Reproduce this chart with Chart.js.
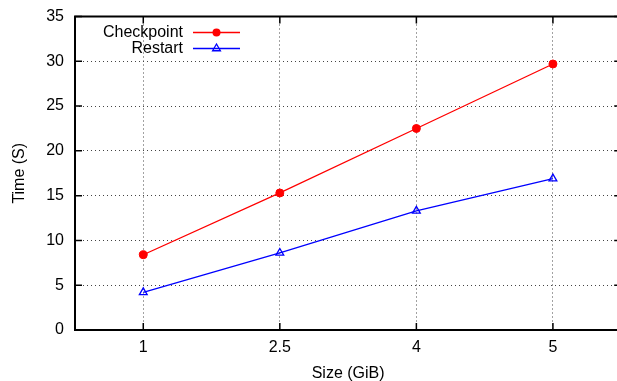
<!DOCTYPE html>
<html>
<head>
<meta charset="utf-8">
<script src="https://cdn.jsdelivr.net/npm/chart.js@4/dist/chart.umd.min.js"></script>
<style>
  html, body { margin: 0; padding: 0; background: #fff; overflow: hidden; }
  #wrap { width: 617px; height: 381px; overflow: hidden; }
  #box { width: 627px; height: 381px; }
  #timeChart { width: 627px; height: 381px; display: block; }
</style>
</head>
<body>
<div id="wrap"><div id="box"><canvas id="timeChart" width="627" height="381"></canvas></div></div>
<script>
const sizes = ['1', '2.5', '4', '5'];
const checkpointTimes = [8.4, 15.3, 22.5, 29.7];
const restartTimes = [4.2, 8.6, 13.3, 16.9];
const yTicks = [0, 5, 10, 15, 20, 25, 30, 35];

const FONT = { family: '"Liberation Sans", Arial, Helvetica, sans-serif', size: 16 };

// frame, inward tick marks on all four sides and the key in the upper left
const gnuplotFrame = {
    id: 'gnuplotFrame',
    afterDatasetsDraw(chart) {
        const { ctx, chartArea: a, scales } = chart;
        const tick = 7;
        ctx.save();
        ctx.strokeStyle = '#000';
        ctx.lineWidth = 1.5;
        ctx.beginPath();
        scales.y.ticks.forEach((t, i) => {
            const y = scales.y.getPixelForTick(i);
            ctx.moveTo(a.left, y); ctx.lineTo(a.left + tick, y);
            ctx.moveTo(a.right, y); ctx.lineTo(a.right - tick, y);
        });
        scales.x.ticks.forEach((t, i) => {
            const x = scales.x.getPixelForTick(i);
            ctx.moveTo(x, a.bottom); ctx.lineTo(x, a.bottom - tick);
            ctx.moveTo(x, a.top); ctx.lineTo(x, a.top + tick);
        });
        ctx.stroke();
        ctx.lineWidth = 2;
        ctx.strokeRect(a.left, a.top, a.right - a.left, a.bottom - a.top);

        // key
        ctx.font = FONT.size + 'px ' + FONT.family;
        ctx.textAlign = 'right';
        ctx.textBaseline = 'middle';
        chart.data.datasets.forEach((ds, i) => {
            const y = 32.5 + i * 16;
            const mx = 216.5;
            ctx.fillStyle = '#000';
            ctx.fillText(ds.label, 183, y);
            ctx.strokeStyle = ds.borderColor;
            ctx.lineWidth = ds.borderWidth;
            ctx.beginPath();
            ctx.moveTo(193, y); ctx.lineTo(240, y);
            ctx.stroke();
            ctx.fillStyle = ds.pointBackgroundColor;
            ctx.strokeStyle = ds.pointBorderColor;
            ctx.lineWidth = ds.pointBorderWidth;
            ctx.beginPath();
            if (ds.pointStyle === 'circle') {
                ctx.arc(mx, y, ds.pointRadius, 0, Math.PI * 2);
                ctx.fill();
            } else {
                const r = ds.pointRadius;
                ctx.moveTo(mx, y - r);
                ctx.lineTo(mx + r * 0.87, y + r * 0.5);
                ctx.lineTo(mx - r * 0.87, y + r * 0.5);
                ctx.closePath();
                ctx.stroke();
            }
        });
        ctx.restore();
    }
};

new Chart(document.getElementById('timeChart').getContext('2d'), {
    type: 'line',
    data: {
        labels: sizes,
        datasets: [
            {
                label: 'Checkpoint',
                data: checkpointTimes,
                borderColor: '#ff0000',
                backgroundColor: '#ff0000',
                borderWidth: 1.3,
                pointStyle: 'circle',
                pointRadius: 4,
                pointBorderWidth: 1,
                pointBackgroundColor: '#ff0000',
                pointBorderColor: '#ff0000',
                tension: 0
            },
            {
                label: 'Restart',
                data: restartTimes,
                borderColor: '#0000ff',
                backgroundColor: '#0000ff',
                borderWidth: 1.3,
                pointStyle: 'triangle',
                pointRadius: 4.5,
                pointBorderWidth: 1.3,
                pointBackgroundColor: 'rgba(0,0,0,0)',
                pointBorderColor: '#0000ff',
                tension: 0
            }
        ]
    },
    options: {
        responsive: false,
        maintainAspectRatio: false,
        animation: false,
        layout: { padding: { top: 16.5, right: 2, left: 0, bottom: 0 } },
        plugins: {
            legend: { display: false },
            tooltip: { enabled: false }
        },
        scales: {
            x: {
                offset: true,
                grid: {
                    offset: false,
                    drawTicks: false,
                    color: '#444',
                    lineWidth: 1
                },
                border: { display: false, dash: [1, 3] },
                ticks: { color: '#000', font: FONT, padding: 8 },
                title: { display: true, text: 'Size (GiB)', color: '#000', font: FONT, padding: { top: 4, bottom: -2 } },
                afterFit(scale) { scale.height = 51; }
            },
            y: {
                min: 0,
                max: 35,
                afterBuildTicks(scale) { scale.ticks = yTicks.map(v => ({ value: v })); },
                grid: {
                    drawTicks: false,
                    color: '#444',
                    lineWidth: 1
                },
                border: { display: false, dash: [1, 3] },
                ticks: { color: '#000', font: FONT, padding: 11 },
                title: { display: true, text: 'Time (S)', color: '#000', font: FONT, padding: { top: 10, bottom: 0 } },
                afterFit(scale) {
                    scale.width = 75;
                    scale.paddingTop = 0;
                    scale.paddingBottom = 0;
                }
            }
        }
    },
    plugins: [gnuplotFrame]
});
</script>
</body>
</html>
